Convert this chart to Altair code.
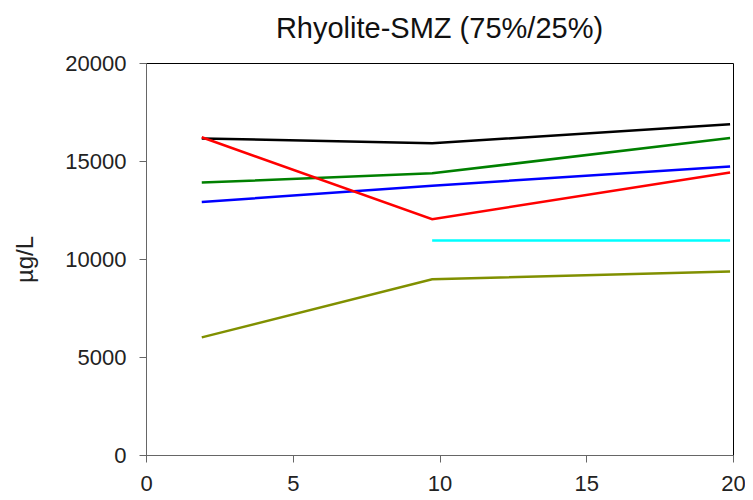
import altair as alt
import pandas as pd

# Data
times = [1.9, 9.75, 19.9]
series_black = [16150, 15900, 16880]
series_green = [13900, 14370, 16170]
series_blue = [12910, 13740, 14720]
series_red = [16210, 12030, 14410]
cyan_times = [9.75, 19.9]
series_cyan = [10950, 10950]
series_olive = [6000, 8970, 9360]

names = ["black", "green", "blue", "red", "cyan", "olive"]
colors = ["#000000", "#008000", "#0000FF", "#FF0000", "#00FFFF", "#809000"]

rows = []
for name, xs, ys in [
    ("black", times, series_black),
    ("green", times, series_green),
    ("blue", times, series_blue),
    ("red", times, series_red),
    ("cyan", cyan_times, series_cyan),
    ("olive", times, series_olive),
]:
    for x, y in zip(xs, ys):
        rows.append({"series": name, "t": x, "v": y})
df = pd.DataFrame(rows)

FONT = "Liberation Sans"

chart = (
    alt.Chart(df)
    .mark_line(strokeWidth=2.5)
    .encode(
        x=alt.X(
            "t:Q",
            scale=alt.Scale(domain=[0, 20], nice=False, zero=False),
            axis=alt.Axis(
                values=[0, 5, 10, 15, 20],
                title=None,
                grid=False,
                tickSize=7,
                labelPadding=11,
                labelFontSize=22,
                labelFont=FONT,
                labelColor="#222222",
                domainColor="#666666",
                tickColor="#666666",
                labelFlush=False,
            ),
        ),
        y=alt.Y(
            "v:Q",
            scale=alt.Scale(domain=[0, 20000], nice=False),
            axis=alt.Axis(
                values=[0, 5000, 10000, 15000, 20000],
                title="µg/L",
                titleFontSize=24,
                titleFont=FONT,
                titleFontWeight="normal",
                titleColor="#222222",
                titlePadding=27,
                grid=False,
                tickSize=7,
                labelPadding=13,
                labelFontSize=22,
                labelFont=FONT,
                labelColor="#222222",
                domainColor="#666666",
                tickColor="#666666",
                format="d",
            ),
        ),
        color=alt.Color(
            "series:N",
            scale=alt.Scale(domain=names, range=colors),
            legend=None,
        ),
        order="t:Q",
    )
    .properties(
        width=587,
        height=392,
        title=alt.TitleParams(
            "Rhyolite-SMZ (75%/25%)",
            fontSize=29,
            font=FONT,
            fontWeight="normal",
            color="#111111",
            anchor="middle",
            offset=8,
        ),
        autosize=alt.AutoSizeParams(type="none"),
        padding={"left": 138, "top": 55, "right": 12, "bottom": 45},
    )
    .configure_view(stroke="#000000", strokeWidth=1)
)

chart.save("out.html", embed_options={"renderer": "svg", "actions": False})
